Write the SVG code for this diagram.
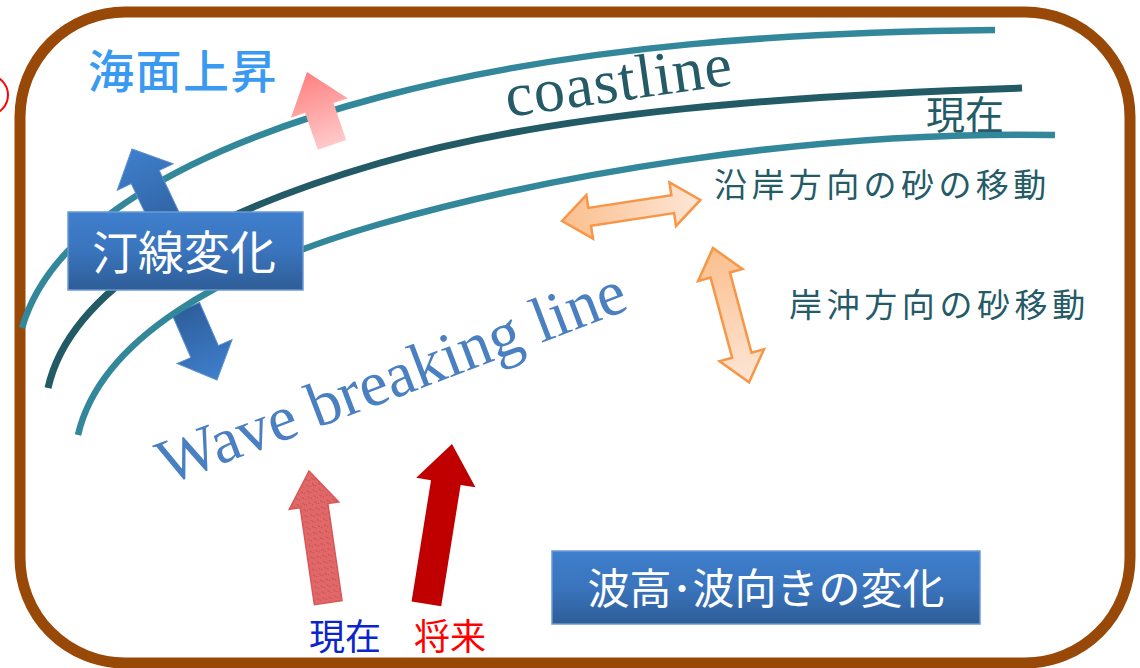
<svg xmlns="http://www.w3.org/2000/svg" width="1140" height="668" viewBox="0 0 1140 668">
<defs>
<style>
.cjk{font-family:"Noto Sans CJK JP","Noto Sans",sans-serif}
.serif{font-family:"Liberation Serif","Times New Roman",serif}
.curve{fill:none;stroke-width:6.5}
.lt{stroke:#33879b}
.dk{stroke:#225a66;stroke-width:7}
.teal{fill:#245b67}
.box{stroke:#6b9ad3;stroke-width:1.5}
.orng{stroke:#f79646;stroke-width:2.5;stroke-linejoin:miter}
</style>
<linearGradient id="gBox" x1="0" y1="0" x2="0" y2="1">
<stop offset="0" stop-color="#3f7fcd"/>
<stop offset="0.5" stop-color="#3a74bd"/>
<stop offset="1" stop-color="#2e5d97"/>
</linearGradient>
<linearGradient id="gBlueArr" x1="0" y1="0" x2="0" y2="1">
<stop offset="0" stop-color="#3f7fcc"/>
<stop offset="1" stop-color="#2e5f9c"/>
</linearGradient>
<linearGradient id="gPink" x1="0" y1="0" x2="0" y2="1">
<stop offset="0" stop-color="#ff8080"/>
<stop offset="1" stop-color="#ffc9c9"/>
</linearGradient>
<linearGradient id="gOrH" x1="0" y1="0" x2="1" y2="0">
<stop offset="0" stop-color="#fbbf8e"/>
<stop offset="1" stop-color="#fde6d6"/>
</linearGradient>
<pattern id="pRed" width="6" height="6" patternUnits="userSpaceOnUse">
<rect width="6" height="6" fill="#e06868"/>
<path d="M1,1 l2,2 M4,4 l1,-1" stroke="#c84848" stroke-width="1"/>
</pattern>
</defs>

<rect id="frame" x="20" y="12" width="1110" height="651" rx="105" ry="105" fill="#ffffff" stroke="#984807" stroke-width="11"/>
<circle cx="-12" cy="95" r="20" fill="none" stroke="#ff0000" stroke-width="2"/>

<g id="shoreline-arrow-down">
<path transform="translate(217,380) rotate(156.4)" d="M0,0 L30,31 L15,31 L15,78 L-15,78 L-15,31 L-30,31 Z" fill="url(#gBlueArr)" stroke="#5b8fd0" stroke-width="1"/>
</g>

<g id="connectors">
<path class="curve lt" d="M22,328 C50,230 180,150 380,97 C580,44 800,32 995,30"/>
<path class="curve dk" d="M48,388 C70,290 200,215 380,163 C560,111 800,95 1022,88"/>
<path class="curve lt" d="M78,435 C100,340 220,270 380,224 C540,178 800,130 1055,135"/>
</g>

<g id="sea-rise-arrow">
<path transform="translate(307,72) rotate(-18.9)" d="M0,0 L30,38 L15,38 L15,77 L-15,77 L-15,38 L-30,38 Z" fill="url(#gPink)"/>
</g>

<g id="shoreline-arrow-up">
<path transform="translate(132,149) rotate(-25.3)" d="M0,0 L31,31 L15.5,31 L15.5,95 L-15.5,95 L-15.5,31 L-31,31 Z" fill="url(#gBlueArr)" stroke="#5b8fd0" stroke-width="1"/>
</g>

<g id="node-shoreline">
<rect class="box" x="68" y="212" width="235" height="78" fill="url(#gBox)"/>
<text class="cjk" x="184" y="269" font-size="46" fill="#ffffff" text-anchor="middle">汀線変化</text>
</g>

<g id="label-sea-rise">
<text class="cjk" x="88" y="88" font-size="46" font-weight="500" fill="#3a9af2" letter-spacing="1.5">海面上昇</text>
</g>

<g id="label-coastline">
<text class="serif teal" transform="translate(508,117) rotate(-8.2)" font-size="62" letter-spacing="1">coastline</text>
</g>

<g id="label-now-top">
<text class="cjk teal" x="926" y="129" font-size="39">現在</text>
</g>

<g id="longshore">
<path class="orng" transform="translate(562,221) rotate(-8.65)" d="M0,0 L28,-22 L28,-9 L112,-9 L112,-22 L140,0 L112,22 L112,9 L28,9 L28,22 Z" fill="url(#gOrH)"/>
<text class="cjk teal" x="714" y="197" font-size="33" letter-spacing="4.4">沿岸方向の砂の移動</text>
</g>

<g id="crossshore">
<path class="orng" transform="translate(713,248) rotate(74.96)" d="M0,0 L28,-23 L28,-10 L111,-10 L111,-23 L139,0 L111,23 L111,10 L28,10 L28,23 Z" fill="url(#gOrH)"/>
<text class="cjk teal" x="789" y="317" font-size="33" letter-spacing="4.6">岸沖方向の砂移動</text>
</g>

<g id="label-wave-breaking">
<text class="serif" transform="translate(167,485) rotate(-20.8)" font-size="64" fill="#4a7fc1">Wave breaking line</text>
</g>

<g id="wave-now">
<path transform="translate(309,471) rotate(-8.3)" d="M0,0 L25,35 L14,35 L14,133 L-14,133 L-14,35 L-25,35 Z" fill="url(#pRed)" stroke="#d85858" stroke-width="1.5"/>
<text class="cjk" x="309" y="650" font-size="36" fill="#0b24cc">現在</text>
</g>

<g id="wave-future">
<path transform="translate(452,444) rotate(9.1)" d="M0,0 L30,39 L15,39 L15,162 L-15,162 L-15,39 L-30,39 Z" fill="#c00000"/>
<text class="cjk" x="414" y="650" font-size="36" fill="#ff0000">将来</text>
</g>

<g id="node-wave-change">
<rect class="box" x="552" y="551" width="428" height="73" fill="url(#gBox)"/>
<text class="cjk" x="766" y="604" font-size="42" fill="#ffffff" text-anchor="middle">波高･波向きの変化</text>
</g>
</svg>
